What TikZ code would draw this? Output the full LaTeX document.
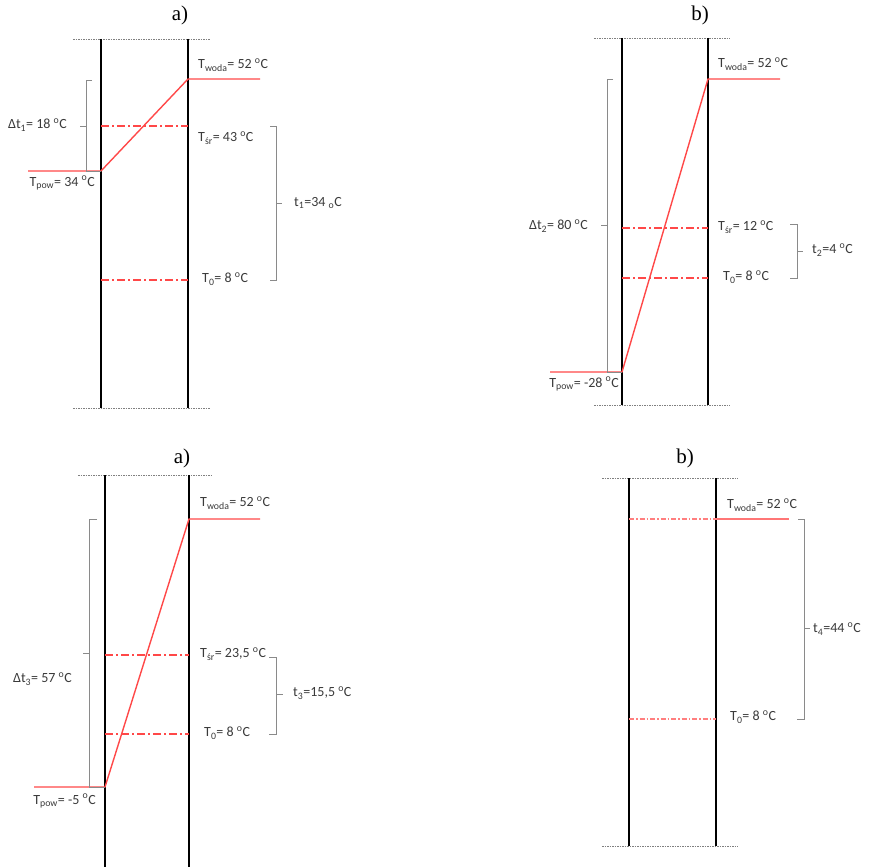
\documentclass[tikz,border=0pt]{standalone}
\usepackage{fontspec}
\setmainfont{Carlito}
\newfontfamily\hdrfont{Liberation Serif}
\definecolor{lred}{HTML}{FF4848}
\definecolor{txt}{HTML}{3A3A3A}
\definecolor{brkgray}{HTML}{8A8A8A}
\begin{document}
\begin{tikzpicture}[x=1pt,y=-1pt,
  wall/.style={black,line width=1.6pt},
  rim/.style={gray,line width=0.6pt,dash pattern=on 1.5pt off 1pt},
  tline/.style={lred,line width=1.4pt},
  dd/.style={lred,line width=1.15pt,dash pattern=on 8pt off 3pt on 2pt off 3pt},
  ddthin/.style={lred!70,line width=1.1pt,dash pattern=on 5pt off 2pt on 1.5pt off 2pt},
  brk/.style={brkgray,line width=0.8pt},
  lab/.style={text=txt,font=\fontsize{14}{16}\selectfont,inner sep=0pt},
  hdr/.style={font=\hdrfont\fontsize{21}{24}\selectfont,inner sep=0pt}]
\useasboundingbox (0,0) rectangle (872,867);

% ================= top-left a) =================
\node[hdr] (h1) at (180,15) {a)};
\draw[rim] (73,39) -- (210,39);
\draw[rim] (73,408) -- (210,408);
\coordinate (A1t) at (101,39); \coordinate (A1b) at (101,408);
\coordinate (B1t) at (188,39); \coordinate (B1b) at (188,408);
\draw[wall] (A1t) -- (A1b);
\draw[wall] (B1t) -- (B1b);
\coordinate (P1) at (101,171); \coordinate (W1) at (188,79);
\draw[tline] (28,171) -- (P1) -- (W1) -- (260,79);
\draw[dd] (101,126) -- (188,126);
\draw[dd] (101,280) -- (188,280);
\draw[brk] (92,80) -- (86,80) -- (86,171) -- (P1);
\draw[brk] (86,126) -- (80,126);
\draw[brk] (270,126) -- (276,126) -- (276,280) -- (270,280);
\draw[brk] (276,203) -- (282,203);
\node[lab,anchor=west] (tw1) at (198,65) {T\textsubscript{woda}= 52 \textsuperscript{o}C};
\node[lab,anchor=west] (ts1) at (198,138) {T\textsubscript{śr}= 43 \textsuperscript{o}C};
\node[lab,anchor=west] (t01) at (202,279) {T\textsubscript{0}= 8 \textsuperscript{o}C};
\node[lab,anchor=east] (tp1) at (95,183) {T\textsubscript{pow}= 34 \textsuperscript{o}C};
\node[lab,anchor=east] (dt1) at (67,125) {Δt\textsubscript{1}= 18 \textsuperscript{o}C};
\node[lab,anchor=west] (tt1) at (294,203) {t\textsubscript{1}=34 \textsubscript{o}C};

% ================= top-right b) =================
\node[hdr] (h2) at (700,15) {b)};
\draw[rim] (594,38) -- (730,38);
\draw[rim] (594,405) -- (730,405);
\coordinate (A2t) at (622,38); \coordinate (A2b) at (622,405);
\coordinate (B2t) at (708,38); \coordinate (B2b) at (708,405);
\draw[wall] (A2t) -- (A2b);
\draw[wall] (B2t) -- (B2b);
\coordinate (P2) at (622,372); \coordinate (W2) at (708,79);
\draw[tline] (550,372) -- (P2) -- (W2) -- (780,79);
\draw[dd] (622,228) -- (708,228);
\draw[dd] (622,278) -- (708,278);
\draw[brk] (613,79) -- (607,79) -- (607,372) -- (P2);
\draw[brk] (607,225) -- (601,225);
\draw[brk] (790,224) -- (797,224) -- (797,278) -- (790,278);
\draw[brk] (797,251) -- (803,251);
\node[lab,anchor=west] (tw2) at (718,64) {T\textsubscript{woda}= 52 \textsuperscript{o}C};
\node[lab,anchor=west] (ts2) at (718,227) {T\textsubscript{śr}= 12 \textsuperscript{o}C};
\node[lab,anchor=west] (t02) at (723,277) {T\textsubscript{0}= 8 \textsuperscript{o}C};
\node[lab,anchor=east] (tp2) at (619,384) {T\textsubscript{pow}= -28 \textsuperscript{o}C};
\node[lab,anchor=east] (dt2) at (588,226) {Δt\textsubscript{2}= 80 \textsuperscript{o}C};
\node[lab,anchor=west] (tt2) at (812,250) {t\textsubscript{2}=4 \textsuperscript{o}C};

% ================= bottom-left a) =================
\node[hdr] (h3) at (182,458) {a)};
\draw[rim] (78,475) -- (212,475);
\coordinate (A3t) at (105,475); \coordinate (A3b) at (105,867);
\coordinate (B3t) at (189,475); \coordinate (B3b) at (189,867);
\draw[wall] (A3t) -- (A3b);
\draw[wall] (B3t) -- (B3b);
\coordinate (P3) at (105,787); \coordinate (W3) at (189,519);
\draw[tline] (34,787) -- (P3) -- (W3) -- (260,519);
\draw[dd] (105,655) -- (189,655);
\draw[dd] (105,734) -- (189,734);
\draw[brk] (97,519) -- (89,519) -- (89,787) -- (P3);
\draw[brk] (89,653) -- (83,653);
\draw[brk] (269,657) -- (276,657) -- (276,734) -- (269,734);
\draw[brk] (276,694) -- (283,694);
\node[lab,anchor=west] (tw3) at (200,503) {T\textsubscript{woda}= 52 \textsuperscript{o}C};
\node[lab,anchor=west] (ts3) at (200,654) {T\textsubscript{śr}= 23,5 \textsuperscript{o}C};
\node[lab,anchor=west] (t03) at (204,733) {T\textsubscript{0}= 8 \textsuperscript{o}C};
\node[lab,anchor=east] (tp3) at (96,801) {T\textsubscript{pow}= -5 \textsuperscript{o}C};
\node[lab,anchor=east] (dt3) at (72,679) {Δt\textsubscript{3}= 57 \textsuperscript{o}C};
\node[lab,anchor=west] (tt3) at (293,693) {t\textsubscript{3}=15,5 \textsuperscript{o}C};

% ================= bottom-right b) =================
\node[hdr] (h4) at (685,458) {b)};
\draw[rim] (602,478) -- (738,478);
\draw[rim] (602,846) -- (738,846);
\coordinate (A4t) at (629,478); \coordinate (A4b) at (629,846);
\coordinate (B4t) at (716,478); \coordinate (B4b) at (716,846);
\draw[wall,line width=1.2pt] (A4t) -- (A4b);
\draw[wall,line width=1.2pt] (B4t) -- (B4b);
\draw[ddthin] (629,519) -- (716,519);
\draw[lred!75,line width=1.1pt] (716,519) -- (789,519);
\draw[ddthin] (629,719) -- (716,719);
\draw[brk] (798,519) -- (804,519) -- (804,719) -- (797,719);
\draw[brk] (804,628) -- (810,628);
\node[lab,anchor=west] (tw4) at (727,505) {T\textsubscript{woda}= 52 \textsuperscript{o}C};
\node[lab,anchor=west] (t04) at (730,717) {T\textsubscript{0}= 8 \textsuperscript{o}C};
\node[lab,anchor=west] (tt4) at (813,629) {t\textsubscript{4}=44 \textsuperscript{o}C};
\end{tikzpicture}
\end{document}
